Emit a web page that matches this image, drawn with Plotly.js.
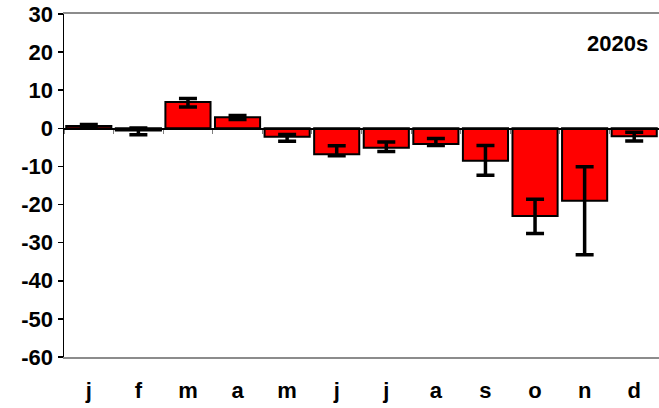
<!DOCTYPE html>
<html>
<head>
<meta charset="utf-8">
<script src="https://cdn.plot.ly/plotly-3.0.1.min.js"></script>
<style>html,body{margin:0;padding:0;background:#fff;}#chart{width:659px;height:408px;}</style>
</head>
<body>
<div id="chart"></div>
<script>
const months = ["j1","f","m1","a1","m2","j2","j3","a2","s","o","n","d"];
const monthLabels = ["j","f","m","a","m","j","j","a","s","o","n","d"];
const values = [0.6, -0.6, 6.9, 2.9, -2.2, -6.8, -5.1, -4.1, -8.5, -23.0, -19.0, -2.1];
const errUpper = [0.4, 0.7, 0.9, 0.5, 0.6, 2.2, 1.5, 1.4, 4.0, 4.4, 8.9, 1.1];
const errLower = [0.5, 1.1, 1.3, 0.6, 1.2, 0.4, 1.0, 0.4, 3.8, 4.6, 14.2, 1.2];
const yTicks = [30, 20, 10, 0, -10, -20, -30, -40, -50, -60];
const panelLabel = "2020s";

const bold = "Liberation Sans, Arial, sans-serif";

const traces = [
  {
    type: "bar",
    x: months,
    y: values,
    marker: {color: "#ff0000", line: {color: "#000000", width: 2}},
    error_y: {type: "data", symmetric: false, array: errUpper, arrayminus: errLower,
              color: "#000000", thickness: 3.5, width: 9},
    hoverinfo: "skip",
    showlegend: false
  },
  {
    type: "scatter",
    mode: "markers",
    x: months,
    y: months.map(() => null),
    xaxis: "x2",
    yaxis: "y",
    hoverinfo: "skip",
    showlegend: false
  }
];

const layout = {
  width: 659,
  height: 408,
  margin: {l: 64, r: 0, t: 14, b: 51},
  paper_bgcolor: "#ffffff",
  plot_bgcolor: "#ffffff",
  bargap: 0.09,
  font: {family: bold, color: "#000000"},
  xaxis: {
    type: "category",
    categoryorder: "array",
    categoryarray: months,
    tickvals: months,
    ticktext: monthLabels,
    range: [-0.5, 11.5],
    showgrid: false,
    zeroline: false,
    showline: true,
    linecolor: "#8c8c8c",
    linewidth: 2,
    mirror: true,
    ticks: "outside",
    ticklen: 13,
    tickcolor: "rgba(0,0,0,0)",
    tickfont: {family: bold, size: 22, color: "#000000", weight: 700}
  },
  xaxis2: {
    type: "category",
    overlaying: "x",
    anchor: "free",
    position: 60 / 90,
    categoryorder: "array",
    categoryarray: months,
    range: [-0.5, 11.5],
    showgrid: false,
    zeroline: false,
    showline: true,
    linecolor: "#000000",
    linewidth: 1.5,
    ticks: "outside",
    tickson: "boundaries",
    ticklen: 4,
    tickwidth: 1,
    tickcolor: "#7f7f7f",
    showticklabels: false
  },
  yaxis: {
    range: [-60, 30],
    tickvals: yTicks,
    ticktext: yTicks.map(String),
    showgrid: false,
    zeroline: false,
    showline: true,
    linecolor: "#000000",
    linewidth: 1.5,
    ticks: "outside",
    ticklen: 5,
    tickwidth: 1.5,
    tickcolor: "#000000",
    tickfont: {family: bold, size: 22, color: "#000000", weight: 700}
  },
  annotations: [{
    text: "<b>" + panelLabel + "</b>",
    xref: "paper", yref: "paper",
    x: 0.93, y: 0.915,
    xanchor: "center", yanchor: "middle",
    showarrow: false,
    font: {family: bold, size: 22, color: "#000000"}
  }]
};

Plotly.newPlot("chart", traces, layout, {staticPlot: true, displayModeBar: false});
</script>
</body>
</html>
